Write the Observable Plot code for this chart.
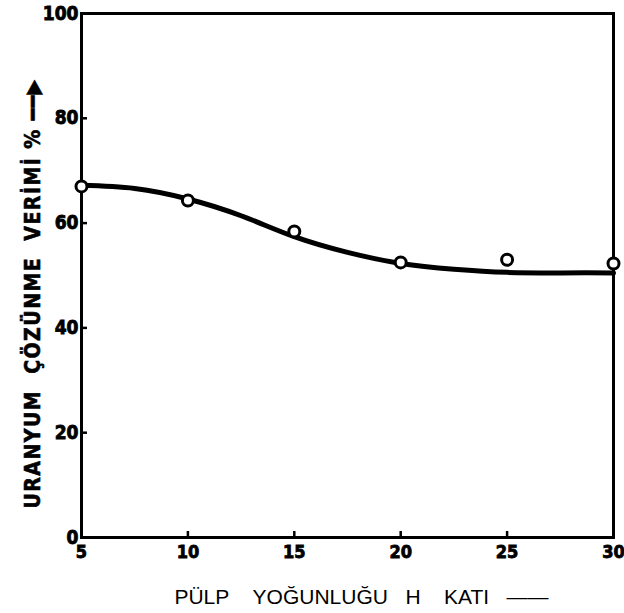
<!DOCTYPE html>
<html>
<head>
<meta charset="utf-8">
<script src="https://cdn.jsdelivr.net/npm/d3@7"></script>
<script src="https://cdn.jsdelivr.net/npm/@observablehq/plot@0.6"></script>
<style>
  html, body { margin: 0; padding: 0; background: #fff; }
</style>
</head>
<body>
<div id="chart"></div>
<script>
// measured points
const pulpX = [5, 10, 15, 20, 25, 30];
const yieldY = [67.0, 64.3, 58.4, 52.5, 53.0, 52.3];
// hand-drawn fitted curve
const curveX = [5, 7.5, 10, 12.5, 15, 17.5, 20, 22.5, 25, 27.5, 30];
const curveY = [67.2, 66.6, 64.6, 61.4, 57.4, 54.4, 52.3, 51.2, 50.6, 50.5, 50.5];
const xTicks = [5, 10, 15, 20, 25, 30];
const yTicks = [0, 20, 40, 60, 80, 100];
const S = "\u00A0";
const xLabel = "PÜLP" + S.repeat(4) + "YOĞUNLUĞU" + S.repeat(3) + "H" + S.repeat(4) + "KATI" + S.repeat(3) + "——";
const yLabel = "URANYUM" + S.repeat(2) + "ÇÖZÜNME" + S.repeat(2) + "VERİMİ" + S + "%" + S + "━━▶";

const points = pulpX.map((x, i) => ({x, y: yieldY[i]}));
const curve = curveX.map((x, i) => ({x, y: curveY[i]}));

const boldFont = "'DejaVu Sans Condensed', 'DejaVu Sans', sans-serif";

const chart = Plot.plot({
  width: 624,
  height: 613,
  marginLeft: 81,
  marginRight: 11,
  marginTop: 13,
  marginBottom: 76,
  style: {background: "#fff", color: "#000", overflow: "visible"},
  x: {domain: [5, 30]},
  y: {domain: [0, 100]},
  marks: [
    Plot.axisX(xTicks, {tickSize: -6, tickPadding: 14, strokeWidth: 2.5, label: null, fontFamily: boldFont, fontWeight: "bold", fontSize: 18}),
    Plot.axisY(yTicks, {tickSize: -6, tickPadding: 9, strokeWidth: 2.5, label: null, fontFamily: boldFont, fontWeight: "bold", fontSize: 19}),
    Plot.frame({stroke: "#000", strokeWidth: 3}),
    Plot.line(curve, {x: "x", y: "y", curve: "natural", stroke: "#000", strokeWidth: 5}),
    Plot.dot(points, {x: "x", y: "y", r: 5.5, stroke: "#000", strokeWidth: 3, fill: "#fff"}),
    Plot.text([xLabel], {frameAnchor: "bottom", dy: 60, dx: 14, lineAnchor: "middle", fontFamily: "'Liberation Sans', Arial, sans-serif", fontSize: 21, fill: "#000"}),
    Plot.text([yLabel], {frameAnchor: "left", dx: -48, dy: 18, rotate: -90, lineAnchor: "middle", textAnchor: "middle", fontFamily: boldFont, fontWeight: "bold", fontSize: 21, fill: "#000"})
  ]
});
const svg = d3.select(chart);
svg.selectAll('g[aria-label$="tick label"] text').attr("stroke", "#000").attr("stroke-width", 0.8);
svg.selectAll('g[aria-label="text"] text').filter(function() { return this.textContent.startsWith("URANYUM"); })
  .attr("letter-spacing", "1.5px").attr("stroke", "#000").attr("stroke-width", 0.6);
document.getElementById("chart").appendChild(chart);
</script>
</body>
</html>
